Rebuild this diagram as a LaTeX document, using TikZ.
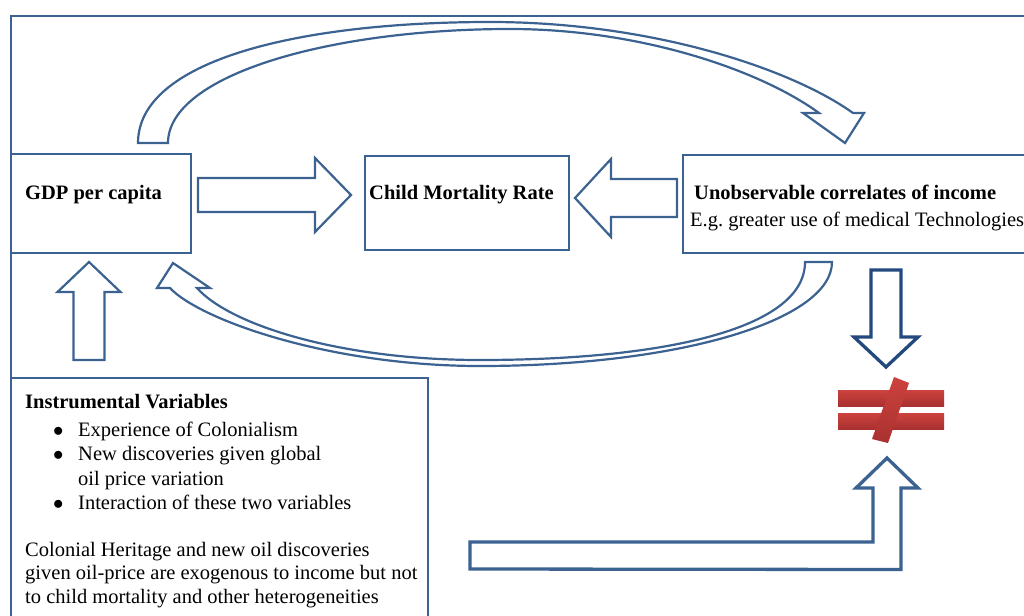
\documentclass[tikz,border=0pt]{standalone}
\usepackage{fontspec}
\setmainfont{Liberation Serif}
\usetikzlibrary{calc}
\definecolor{ivblue}{HTML}{3B6291}
\definecolor{ivdark}{HTML}{23497E}
\definecolor{ivred}{HTML}{CC423E}
\definecolor{ivredd}{HTML}{A93130}
\newcommand{\bodysize}{\fontsize{20.5}{24.5}\selectfont}
\newcommand{\ivitem}[1]{\hspace*{28pt}\makebox[25pt][l]{$\bullet$}#1}

\begin{document}
\begin{tikzpicture}[x=1pt, y=-1pt, font=\bodysize,
    box/.style={draw=ivblue, line width=2.2pt, anchor=north west, inner sep=0pt},
    blk/.style={draw=ivblue, line width=2.2pt, fill=white, line join=miter},
    txt/.style={inner sep=0pt, anchor=base west, font=\bodysize},
    hd/.style={txt, font=\bodysize\bfseries},
    bar/.style={top color=ivred, bottom color=ivredd}]
    \fill[white] (0,0) rectangle (1024,615);
    \useasboundingbox (0,0) rectangle (1024,615);
    \node[box, minimum width=1030pt, minimum height=625pt] (frame) at (10,15)  {};
    \node[box, minimum width=180pt,  minimum height=99pt]  (gdp)   at (10,153) {};
    \node[box, minimum width=204pt,  minimum height=94pt]  (cmr)   at (364,155) {};
    \node[box, minimum width=358pt,  minimum height=98pt]  (unobs) at (682,154) {};
    \node[box, minimum width=417pt,  minimum height=263pt] (iv)    at (10,377) {};
    \node[hd]  (gdptxt)  at (25,199)  {GDP per capita};
    \node[hd]  (cmrtxt)  at (369,199) {Child Mortality Rate};
    \node[hd]  (unobstxt) at (694,199) {Unobservable correlates of income};
    \node[txt] (egtxt)   at (690,226) {E.g.\ greater use of medical Technologies};
    \node[txt, anchor=north west, align=left] (ivtxt) at (25,394)
      {\textbf{Instrumental Variables}\\[3.5pt]
       \ivitem{Experience of Colonialism}\\
       \ivitem{New discoveries given global}\\
       \hspace*{53pt}oil price variation\\
       \ivitem{Interaction of these two variables}\\[22pt]
       Colonial Heritage and new oil discoveries\\[-1pt]
       given oil-price are exogenous to income but not\\[-1pt]
       to child mortality and other heterogeneities};
    \coordinate (gdpout)   at (198,195);
    \coordinate (cmrin1)   at (351,195);
    \coordinate (unobsout) at (677,198);
    \coordinate (cmrin2)   at (575,198);
    \coordinate (ivout)    at (89,360);
    \coordinate (gdpin)    at (89,262);
    \coordinate (unobsdn)  at (886,270);
    \coordinate (neqtop)   at (886,367);
    \coordinate (bentout)  at (470,555.5);
    \coordinate (neqbot)   at (887,458);
    \draw[blk] ($(gdpout)+(0,-17)$) -- ($(cmrin1)+(-36,-17)$) -- ($(cmrin1)+(-36,-37)$) -- (cmrin1)
      -- ($(cmrin1)+(-36,37)$) -- ($(cmrin1)+(-36,17)$) -- ($(gdpout)+(0,17)$) -- cycle;
    \draw[blk] ($(unobsout)+(0,-19)$) -- ($(cmrin2)+(36,-19)$) -- ($(cmrin2)+(36,-39)$) -- (cmrin2)
      -- ($(cmrin2)+(36,39)$) -- ($(cmrin2)+(36,19)$) -- ($(unobsout)+(0,19)$) -- cycle;
    \draw[blk] ($(ivout)+(-15.5,0)$) -- ($(gdpin)+(-15.5,30)$) -- ($(gdpin)+(-31.5,30)$) -- (gdpin)
      -- ($(gdpin)+(31.5,30)$) -- ($(gdpin)+(15.5,30)$) -- ($(ivout)+(15.5,0)$) -- cycle;
    \draw[blk, draw=ivdark, line width=3.3pt] ($(unobsdn)+(-15,0)$) -- ($(neqtop)+(-15,-30)$)
      -- ($(neqtop)+(-32,-30)$) -- (neqtop) -- ($(neqtop)+(32,-30)$) -- ($(neqtop)+(15,-30)$)
      -- ($(unobsdn)+(15,0)$) -- cycle;
    \draw[blk, line width=3.3pt] ($(bentout)+(0,-13.5)$) -- ($(neqbot)+(-14,84)$) -- ($(neqbot)+(-14,30)$)
      -- ($(neqbot)+(-31,30)$) -- (neqbot) -- ($(neqbot)+(31,30)$) -- ($(neqbot)+(14,30)$)
      -- ($(neqbot)+(14,111.5)$) -- ($(bentout)+(0,13.5)$) -- cycle;
    % curved arrows: gdp -> unobs over the top, unobs -> gdp underneath
    \draw[blk] (138,143) .. controls (138,60) and (300,22) .. (490,22)
      .. controls (650,22) and (790,68) .. (853,113) -- (864,113) -- (845,143) -- (803,113) -- (819,113)
      .. controls (760,70) and (640,29) .. (510,29)
      .. controls (330,29) and (168,75) .. (168,143) -- cycle;
    \draw[blk] (805,262) -- (832,262) .. controls (832,320) and (680,366) .. (480,366)
      .. controls (330,366) and (200,320) .. (170,288) -- (157,288) -- (173,263) -- (210,288) -- (197,288)
      .. controls (230,325) and (340,360) .. (480,360)
      .. controls (660,360) and (805,330) .. (805,262) -- cycle;
    % not equal sign
    \shade[bar] (838,390) rectangle (944,406);
    \shade[bar] (838,413) rectangle (944,429);
    \shade[bar] (894,377) -- (909,383) -- (888,443) -- (872,439) -- cycle;
  \end{tikzpicture}
\end{document}
